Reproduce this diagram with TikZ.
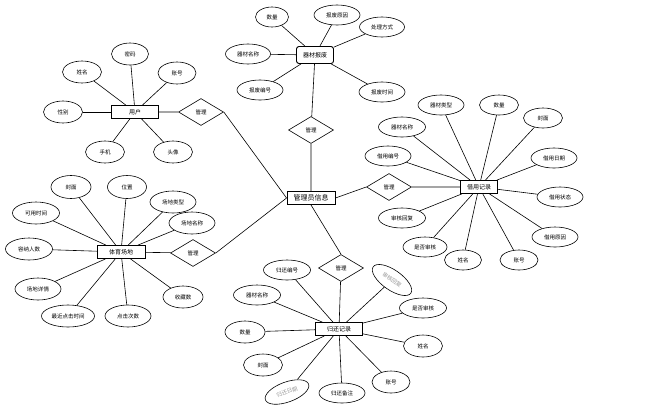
\documentclass[tikz,border=0pt]{standalone}
\usepackage{fontspec}
\newfontfamily\cjk{Noto Sans CJK SC}
\usetikzlibrary{shapes.geometric}
\begin{document}
\begin{tikzpicture}[x=1pt,y=-1pt,line width=0.6pt,
  attr/.style={ellipse,draw,minimum width=46pt,minimum height=20pt,inner sep=0pt,font=\cjk\fontsize{5.5}{6}\selectfont},
  grayattr/.style={attr,text=gray!80},
  ent/.style={rectangle,draw,line width=0.9pt,minimum height=13pt,inner sep=1pt,font=\cjk\fontsize{6}{7}\selectfont},
  rel/.style={diamond,draw,minimum width=45pt,minimum height=27pt,inner sep=0pt,font=\cjk\fontsize{5.5}{6}\selectfont}]
\useasboundingbox (0,0) rectangle (645,408);
% entities
\node[ent,rounded corners=2.5pt,minimum width=37pt,minimum height=17pt] (scrap) at (315,55) {器材报废};
\node[ent,minimum width=48pt,font=\cjk\fontsize{7}{8}\selectfont] (admin) at (311,198) {管理员信息};
\node[ent,minimum width=47pt] (user) at (135,112) {用户};
\node[ent,minimum width=48pt] (venue) at (121,252) {体育场地};
\node[ent,minimum width=37pt] (borrow) at (479,187) {借用记录};
\node[ent,minimum width=47pt] (ret) at (339,329) {归还记录};
% relations
\node[rel] (dS) at (311,130) {管理};
\node[rel] (dU) at (201,112) {管理};
\node[rel] (dV) at (193,253) {管理};
\node[rel] (dB) at (389,187) {管理};
\node[rel] (dR) at (341,268) {管理};
\draw (scrap) -- (dS) (dS) -- (admin);
\draw (user) -- (dU) (dU.east) -- (admin.west);
\draw (venue) -- (dV) (dV.east) -- (admin.west);
\draw (admin.east) -- (dB.west) (dB) -- (borrow);
\draw (admin.south) -- (dR.north) (dR) -- (ret);
% scrap attributes
\node[attr,minimum width=33pt] (s1) at (272,17) {数量};
\node[attr] (s2) at (337,15) {报废原因};
\node[attr,minimum width=45pt] (s3) at (382,27) {处理方式};
\node[attr,minimum width=45pt] (s4) at (248,54) {器材名称};
\node[attr] (s5) at (260,90) {报废编号};
\node[attr] (s6) at (382,92) {报废时间};
\foreach \n in {s1,s2,s3,s4,s5,s6} \draw (\n) -- (scrap);
% user attributes
\node[attr,minimum width=37pt,minimum height=22pt] (u1) at (130,54) {密码};
\node[attr,minimum width=39pt,minimum height=22pt] (u2) at (82,72) {姓名};
\node[attr,minimum width=38pt,minimum height=22pt] (u3) at (177,73) {账号};
\node[attr,minimum width=39pt,minimum height=22pt] (u4) at (63,112) {性别};
\node[attr,minimum width=39pt,minimum height=22pt] (u5) at (105,152) {手机};
\node[attr,minimum width=39pt,minimum height=22pt] (u6) at (173,152) {头像};
\foreach \n in {u1,u2,u3,u4,u5,u6} \draw (\n) -- (user);
% venue attributes
\node[attr,minimum width=40pt,minimum height=23pt] (v1) at (71,187) {封面};
\node[attr,minimum width=39pt,minimum height=23pt] (v2) at (127,187) {位置};
\node[attr,minimum height=22pt] (v3) at (173,202) {场地类型};
\node[attr,minimum height=22pt] (v4) at (192,223) {场地名称};
\node[attr,minimum width=47pt,minimum height=22pt] (v5) at (36,213) {可用时间};
\node[attr,minimum width=47pt,minimum height=22pt] (v6) at (29,249) {容纳人数};
\node[attr,minimum height=22pt] (v7) at (38,289) {场地详情};
\node[attr,minimum width=53pt,minimum height=22pt] (v8) at (68,316) {最近点击时间};
\node[attr,minimum height=22pt] (v9) at (128,316) {点击次数};
\node[attr,minimum width=40pt,minimum height=22pt] (v10) at (183,297) {收藏数};
\foreach \n in {v1,v2,v3,v4,v5,v6,v7,v8,v9,v10} \draw (\n) -- (venue);
% borrow attributes
\node[attr] (b1) at (441,105) {器材类型};
\node[attr,minimum width=39pt] (b2) at (499,105) {数量};
\node[attr,minimum width=39pt] (b3) at (543,118) {封面};
\node[attr,minimum width=47pt] (b4) at (402,127) {器材名称};
\node[attr] (b5) at (388,156) {借用编号};
\node[attr] (b6) at (554,158) {借用日期};
\node[attr] (b7) at (560,197) {借用状态};
\node[attr,minimum width=47pt] (b8) at (402,218) {审核回复};
\node[attr,minimum width=44pt] (b9) at (425,247) {是否审核};
\node[attr,minimum width=37pt] (b10) at (463,260) {姓名};
\node[attr,minimum width=38pt] (b11) at (519,260) {账号};
\node[attr] (b12) at (555,237) {借用原因};
\foreach \n in {b1,b2,b3,b4,b5,b6,b7,b8,b9,b10,b11,b12} \draw (\n) -- (borrow);
% return attributes
\node[attr,minimum width=47pt] (r1) at (287,270) {归还编号};
\node[grayattr,rotate=-35] (r2) at (392,280) {审核回复};
\node[attr,minimum width=47pt] (r3) at (257,295) {器材名称};
\node[attr,minimum width=47pt] (r4) at (423,308) {是否审核};
\node[attr,minimum width=40pt,minimum height=22pt] (r5) at (245,332) {数量};
\node[attr,minimum width=39pt,minimum height=22pt] (r6) at (423,346) {姓名};
\node[attr,minimum width=39pt,minimum height=22pt] (r7) at (263,365) {封面};
\node[grayattr,rotate=20] (r8) at (287,392) {归还日期};
\node[attr] (r9) at (342,393) {归还备注};
\node[attr,minimum width=38pt,minimum height=22pt] (r10) at (391,382) {账号};
\foreach \n in {r1,r2,r3,r4,r5,r6,r7,r8,r9,r10} \draw (\n) -- (ret);
\end{tikzpicture}
\end{document}
